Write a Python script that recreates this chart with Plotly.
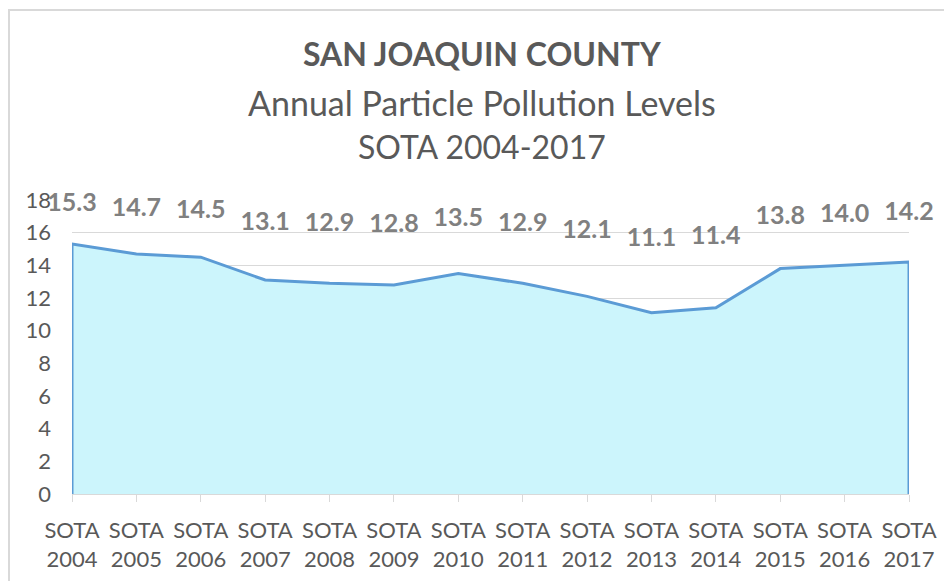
import plotly.graph_objects as go

# ============================================================================
# DATA
# ============================================================================

years = ["2004", "2005", "2006", "2007", "2008", "2009", "2010",
         "2011", "2012", "2013", "2014", "2015", "2016", "2017"]
pm_levels = [15.3, 14.7, 14.5, 13.1, 12.9, 12.8, 13.5,
             12.9, 12.1, 11.1, 11.4, 13.8, 14.0, 14.2]
y_ticks = [0, 2, 4, 6, 8, 10, 12, 14, 16, 18]

categories = ["SOTA " + y for y in years]
tick_text = ["SOTA<br>" + y for y in years]

# ============================================================================
# THEME
# ============================================================================

FONT = "Lato, Calibri, Arial"
LINE_BLUE = "#5B9BD5"
FILL_CYAN = "#CCF5FC"
GRID_GRAY = "#D9D9D9"
TEXT_GRAY = "#595959"
LABEL_GRAY = "#808080"

# the page body has an 8px margin, so the figure is sized to fill the rest
BODY = 8
PLOT_TOP = 200   # px from top of page
PLOT_H = 294     # px


def paper_y(px):
    return 1 + (PLOT_TOP - px) / PLOT_H


fig = go.Figure()

# area with vertical edges at both ends (Excel-style outline)
fig.add_trace(go.Scatter(
    x=[categories[0]] + categories + [categories[-1]],
    y=[0] + pm_levels + [0],
    mode="lines",
    line=dict(color=LINE_BLUE, width=3),
    fill="tozeroy",
    fillcolor=FILL_CYAN,
    hoverinfo="skip",
    showlegend=False
))

# data labels live on a hidden secondary axis, like the original
fig.add_trace(go.Scatter(
    x=categories,
    y=pm_levels,
    yaxis="y2",
    mode="text",
    text=[f"{v:.1f}" for v in pm_levels],
    textposition="middle center",
    textfont=dict(family=FONT, size=25, color=LABEL_GRAY, weight="bold"),
    cliponaxis=False,
    showlegend=False
))

# ============================================================================
# TITLES
# ============================================================================

titles = [
    ("<b>SAN JOAQUIN COUNTY</b>", 53, 32),
    ("Annual Particle Pollution Levels", 102, 34),
    ("SOTA 2004-2017", 146, 32),
]
for txt, ypx, size in titles:
    fig.add_annotation(
        text=txt, xref="paper", yref="paper", x=0.49, y=paper_y(ypx),
        xanchor="center", yanchor="middle", showarrow=False,
        font=dict(family=FONT, size=size, color=TEXT_GRAY)
    )

# chart frame (right and bottom edges are cropped in the original)
fig.add_shape(
    type="rect", xref="paper", yref="paper",
    x0=-63 / 837, x1=1.2, y0=-0.5, y1=paper_y(10),
    line=dict(color=GRID_GRAY, width=2), layer="below"
)

# ============================================================================
# LAYOUT
# ============================================================================

fig.update_layout(
    width=952 - BODY, height=581 - BODY,
    margin=dict(l=72 - BODY, r=43, t=PLOT_TOP - BODY, b=87),
    paper_bgcolor="white",
    plot_bgcolor="white",
    font=dict(family=FONT, size=22, color=TEXT_GRAY),
    xaxis=dict(
        type="category",
        categoryorder="array",
        categoryarray=categories,
        range=[0, len(categories) - 1],
        tickvals=categories,
        ticktext=tick_text,
        showgrid=False,
        showline=True,
        linecolor=GRID_GRAY,
        linewidth=1,
        ticks="outside",
        ticklen=7,
        tickcolor=GRID_GRAY,
        ticklabelstandoff=10,
        tickfont=dict(family=FONT, size=22, color=TEXT_GRAY),
        zeroline=False,
        automargin=False,
    ),
    yaxis=dict(
        range=[0, 18],
        tickvals=y_ticks,
        showgrid=True,
        gridcolor=GRID_GRAY,
        gridwidth=1,
        zeroline=False,
        showline=False,
        ticks="",
        ticklabelstandoff=20,
        tickfont=dict(family=FONT, size=22, color=TEXT_GRAY),
        automargin=False,
    ),
    yaxis2=dict(
        overlaying="y",
        range=[-19.5, 15.9],
        visible=False,
        automargin=False,
    ),
)

fig.write_html("out.html")
